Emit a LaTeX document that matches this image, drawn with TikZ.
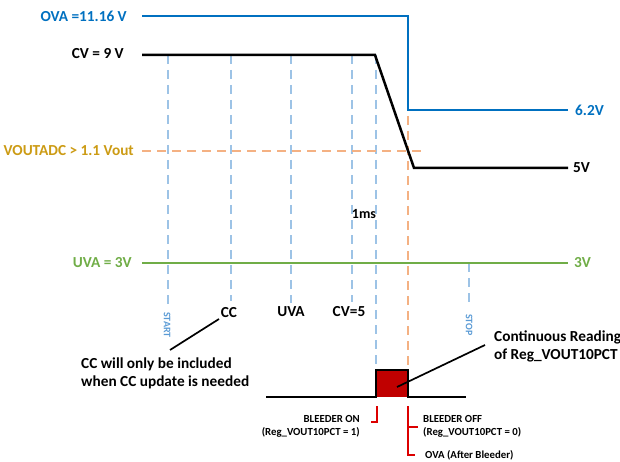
\documentclass[tikz,border=0pt]{standalone}
\usepackage{fontspec}
\setmainfont{Carlito}
\definecolor{ovablue}{RGB}{0,112,192}
\definecolor{lblue}{RGB}{157,195,230}
\definecolor{vtblue}{RGB}{91,155,213}
\definecolor{lorange}{RGB}{244,177,131}
\definecolor{goldtxt}{RGB}{204,155,20}
\definecolor{uvgreen}{RGB}{112,173,71}
\definecolor{dred}{RGB}{192,0,0}
\definecolor{bred}{RGB}{220,0,0}
\tikzset{
  sig/.style={line width=2.5pt},
  vdash/.style={lblue, line width=2pt, dash pattern=on 9pt off 6pt},
  odash/.style={lorange, line width=2pt, dash pattern=on 9pt off 6pt},
  lbl/.style={font=\bfseries\fontsize{15.3}{18}\selectfont, inner sep=0pt},
  small/.style={font=\bfseries\fontsize{10.8}{13}\selectfont, inner sep=0pt},
  vtxt/.style={font=\bfseries\fontsize{10}{11}\selectfont, inner sep=0pt, text=vtblue, rotate=-90},
  leader/.style={line width=1.7pt},
  brk/.style={bred, line width=1.6pt}
}
\begin{document}
\begin{tikzpicture}[x=1pt,y=-1pt]
\useasboundingbox (0,0) rectangle (620,462);
% coordinates
\coordinate (ova0) at (142,16);
\coordinate (ova1) at (408,16);
\coordinate (ova2) at (408,110);
\coordinate (ova3) at (568,110);
\coordinate (cv0) at (142,55);
\coordinate (cv1) at (375,55);
\coordinate (cv2) at (414,168);
\coordinate (cv3) at (568,168);
\coordinate (vo0) at (142,151);
\coordinate (vo1) at (424,151);
\coordinate (uv0) at (142,263);
\coordinate (uv1) at (568,263);
% vertical dashed lines
\coordinate (t1a) at (168,55); \coordinate (t1b) at (168,304);
\coordinate (t2a) at (231,55); \coordinate (t2b) at (231,301);
\coordinate (t3a) at (291,55); \coordinate (t3b) at (291,303);
\coordinate (t4a) at (352,55); \coordinate (t4b) at (352,302);
\coordinate (t5a) at (376,55); \coordinate (t5b) at (376,370);
\coordinate (t6a) at (469,263); \coordinate (t6b) at (469,304);
\coordinate (o1a) at (408,116); \coordinate (o1b) at (408,368);
\draw[vdash] (t1a) -- (t1b);
\draw[vdash] (t2a) -- (t2b);
\draw[vdash] (t3a) -- (t3b);
\draw[vdash] (t4a) -- (t4b);
\draw[vdash] (t5a) -- (t5b);
\draw[vdash] (t6a) -- (t6b);
\draw[odash] (vo0) -- (vo1);
\draw[odash] (o1a) -- (o1b);
% signals
\draw[sig, ovablue] (ova0) -- (ova1) -- (ova2) -- (ova3);
\draw[sig, black] (cv0) -- (cv1) -- (cv2) -- (cv3);
\draw[sig, uvgreen] (uv0) -- (uv1);
% labels
\node[lbl, text=ovablue, anchor=east] (lova) at (127,16) {OVA =11.16 V};
\node[lbl, anchor=east] (lcv) at (124,54) {CV = 9 V};
\node[lbl, text=goldtxt, anchor=east] (lvo) at (134,151) {VOUTADC > 1.1 Vout};
\node[lbl, text=uvgreen, anchor=east] (luv) at (132,263) {UVA = 3V};
\node[lbl, text=ovablue, anchor=west] (l62) at (575,110) {6.2V};
\node[lbl, anchor=west] (l5) at (573,168) {5V};
\node[lbl, text=uvgreen, anchor=west] (l3) at (574,263) {3V};
\node[lbl, font=\bfseries\fontsize{14}{16}\selectfont] (lms) at (364,214) {1ms};
\node[vtxt] (lstart) at (167,325) {START};
\node[vtxt] (lstop) at (469,325) {STOP};
\node[lbl] (lcc) at (229,313) {CC};
\node[lbl] (luva) at (291,312) {UVA};
\node[lbl] (lcv5) at (349,312) {CV=5};
\node[lbl, align=left, anchor=west] (note) at (81,373) {CC will only be included\\when CC update is needed};
\node[lbl, align=left, anchor=west] (cont) at (494,346) {Continuous Reading\\of Reg\_VOUT10PCT};
% pulse
\coordinate (b0) at (266,397);
\coordinate (b1) at (376,397);
\coordinate (b2) at (376,370);
\coordinate (b3) at (408,370);
\coordinate (b4) at (408,397);
\coordinate (b5) at (466,397);
\fill[dred] (b1) -- (b2) -- (b3) -- (b4) -- cycle;
\draw[line width=1.8pt] (b0) -- (b1) -- (b2) -- (b3) -- (b4) -- (b5);
% leaders
\coordinate (ccl0) at (170,350);
\coordinate (ccl1) at (219,319);
\draw[leader] (ccl0) -- (ccl1);
\coordinate (crl0) at (397,387);
\coordinate (crl1) at (485,345);
\draw[leader] (crl0) -- (crl1);
% brackets
\coordinate (on0) at (377,406); \coordinate (on1) at (377,422); \coordinate (on2) at (371,422);
\draw[brk] (on0) -- (on1) -- (on2);
\coordinate (of0) at (408,406); \coordinate (of1) at (408,455); \coordinate (of2) at (415,455);
\coordinate (of3) at (408,427); \coordinate (of4) at (418,427);
\draw[brk] (of0) -- (of1) -- (of2);
\draw[brk] (of3) -- (of4);
\node[small, align=right, anchor=east] (bon) at (360,426) {BLEEDER ON\\(Reg\_VOUT10PCT = 1)};
\node[small, align=left, anchor=west] (boff) at (423,426) {BLEEDER OFF\\(Reg\_VOUT10PCT = 0)};
\node[small, anchor=west] (oab) at (425,455) {OVA (After Bleeder)};
\end{tikzpicture}
\end{document}
